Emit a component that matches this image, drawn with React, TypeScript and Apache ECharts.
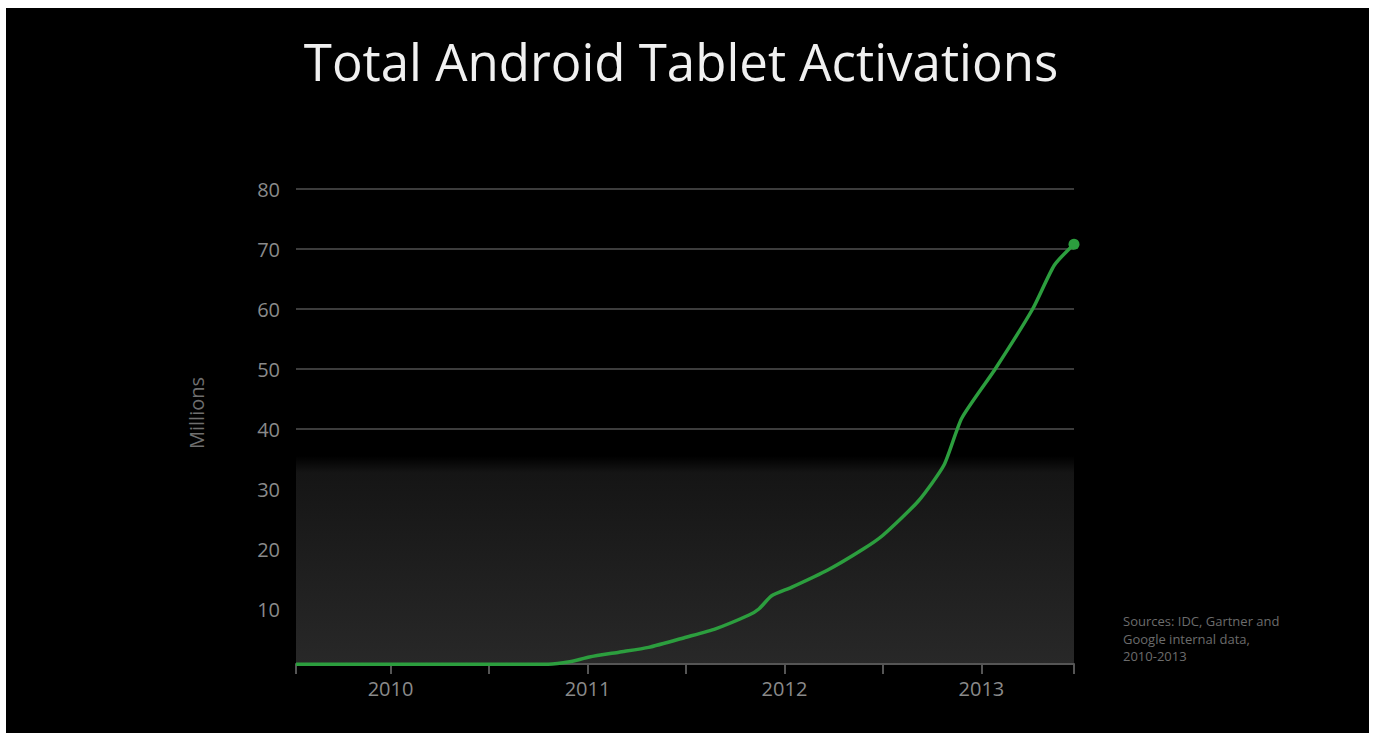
import React, { useEffect, useRef } from "react";
import * as echarts from "echarts";

const TITLE = "Total Android Tablet Activations";
const Y_NAME = "Millions";
const SOURCE_LINES = ["Sources: IDC, Gartner and", "Google internal data,", "2010-2013"];

// time in fractional years
const years = [
  2009.52, 2010.8, 2010.91, 2011.01, 2011.16, 2011.31, 2011.5, 2011.65, 2011.82, 2011.87,
  2011.935, 2012.035, 2012.22, 2012.4, 2012.5, 2012.68, 2012.81, 2012.9, 2013.07, 2013.26,
  2013.37, 2013.47,
];
// millions of activations
const values = [
  0.8, 0.8, 1.2, 2.0, 2.8, 3.6, 5.3, 6.7, 9.0, 10.0,
  12.2, 13.6, 16.5, 20.0, 22.3, 28.0, 34.0, 41.8, 50.0, 60.0,
  67.3, 70.8,
];
const xTicks = [2009.52, 2010, 2010.5, 2011, 2011.5, 2012, 2012.5, 2013, 2013.47];
const xLabels = [2010, 2011, 2012, 2013];
const X_MIN = 2009.52;
const X_MAX = 2013.47;
const Y_MIN = 0;
const Y_MAX = 80;
const Y_STEP = 10;
const BAND_FROM = 0.8;
const BAND_TO = 35.5;

export default function App() {
  const ref = useRef<HTMLDivElement>(null);
  useEffect(() => {
    if (!ref.current) return;
    const chart = echarts.init(ref.current, undefined, { renderer: "svg" });
    const font = "'Open Sans', 'Noto Sans', sans-serif";
    const seriesData = years.map((y, i) =>
      i === years.length - 1
        ? { value: [y, values[i]], symbol: "circle", symbolSize: 11 }
        : { value: [y, values[i]] }
    );
    chart.setOption({
      animation: false,
      backgroundColor: "#000000",
      textStyle: { fontFamily: font },
      grid: { left: 290, right: 295, top: 181, bottom: 64, containLabel: false },
      xAxis: {
        type: "value",
        min: X_MIN,
        max: X_MAX,
        offset: -5,
        axisLine: { show: true, onZero: false, lineStyle: { color: "#555555", width: 2 } },
        axisTick: {
          show: true,
          length: 10,
          customValues: xTicks,
          lineStyle: { color: "#555555", width: 2 },
        },
        axisLabel: {
          customValues: xLabels,
          formatter: (v: number) => String(Math.round(v)),
          color: "#8a8a8a",
          fontSize: 20,
          fontFamily: font,
          margin: 14,
        },
        splitLine: { show: false },
      },
      yAxis: {
        type: "value",
        min: Y_MIN,
        max: Y_MAX,
        interval: Y_STEP,
        axisLine: { show: false },
        axisTick: { show: false },
        axisLabel: {
          color: "#8a8a8a",
          fontSize: 20,
          fontFamily: font,
          margin: 16,
          formatter: (v: number) => (v === 0 ? "" : String(v)),
        },
        splitLine: { show: true, showMinLine: false, lineStyle: { color: "#3c3c3c", width: 2 } },
      },
      graphic: [
        {
          type: "text",
          x: 675,
          y: 53,
          style: {
            text: TITLE,
            fill: "#f0f0f0",
            font: `51px ${font}`,
            textAlign: "center",
            textVerticalAlign: "middle",
          },
        },
        {
          type: "text",
          x: 190,
          y: 405,
          rotation: Math.PI / 2,
          style: {
            text: Y_NAME,
            fill: "#6f6f6f",
            font: `20px ${font}`,
            textAlign: "center",
            textVerticalAlign: "middle",
          },
        },
        ...SOURCE_LINES.map((t, i) => ({
          type: "text",
          x: 1117,
          y: 613 + i * 17.5,
          style: {
            text: t,
            fill: "#6c6c6c",
            font: `13px ${font}`,
            textAlign: "left",
            textVerticalAlign: "middle",
          },
        })),
      ],
      series: [
        {
          type: "line",
          data: seriesData,
          symbol: "none",
          smooth: 0.2,
          lineStyle: { color: "#2c9e3e", width: 3.5 },
          itemStyle: { color: "#2c9e3e" },
          z: 5,
          markArea: {
            silent: true,
            itemStyle: {
              color: {
                type: "linear",
                x: 0,
                y: 0,
                x2: 0,
                y2: 1,
                colorStops: [
                  { offset: 0, color: "rgba(20,20,20,0)" },
                  { offset: 0.08, color: "rgba(21,21,21,1)" },
                  { offset: 1, color: "rgba(40,40,40,1)" },
                ],
              },
            },
            data: [[{ yAxis: BAND_FROM }, { yAxis: BAND_TO }]],
            z: 0,
          },
        },
      ],
    });
    return () => chart.dispose();
  }, []);
  return (
    <div
      ref={ref}
      style={{ position: "absolute", left: 6, top: 8, width: 1363, height: 725 }}
    />
  );
}
